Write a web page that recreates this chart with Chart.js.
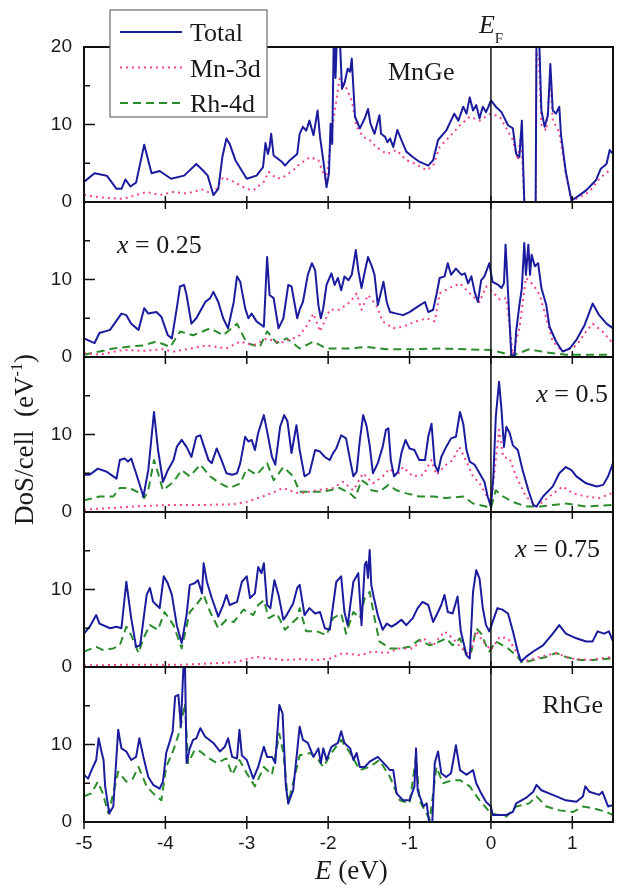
<!DOCTYPE html>
<html>
<head>
<meta charset="utf-8">
<script src="https://cdn.jsdelivr.net/npm/chart.js@4/dist/chart.umd.min.js"></script>
<style>
  html, body { margin: 0; padding: 0; background: #fff; }
  canvas { display: block; }
</style>
</head>
<body>
<canvas id="dos" width="618" height="888"></canvas>
<script>
// ── data: [E (eV), DoS] ─────────────────────────────────────
const xTicks = [-5, -4, -3, -2, -1, 0, 1];
const yTicksTop = [0, 10, 20];
const yTicks = [0, 10];
const yMinor = [5, 15];
const panelNames = ['MnGe', 'x = 0.25', 'x = 0.5', 'x = 0.75', 'RhGe'];

const mngeTotal = [[-5,2.6],[-4.87,3.7],[-4.72,3.4],[-4.6,1.7],[-4.54,1.7],[-4.49,2.9],[-4.43,2.0],[-4.36,2.5],[-4.26,7.4],[-4.17,3.7],[-4.07,4.0],[-3.93,3.0],[-3.77,3.4],[-3.62,4.9],[-3.54,4.1],[-3.48,3.4],[-3.41,0.9],[-3.35,1.7],[-3.3,5.8],[-3.25,8.2],[-3.21,7.5],[-3.14,5.4],[-3.0,3.0],[-2.88,3.4],[-2.8,4.5],[-2.77,7.6],[-2.74,6.2],[-2.72,7.1],[-2.7,8.8],[-2.67,6.0],[-2.57,5.2],[-2.53,4.7],[-2.47,5.4],[-2.38,6.2],[-2.35,8.8],[-2.31,9.7],[-2.27,9.2],[-2.23,10.5],[-2.18,8.6],[-2.13,11.8],[-2.1,8.4],[-2.06,5.4],[-2.02,1.9],[-1.99,3.7],[-1.97,10.1],[-1.95,7.5],[-1.93,22],[-1.91,16],[-1.89,22],[-1.86,22],[-1.83,14.6],[-1.8,15.3],[-1.76,17.2],[-1.73,16.8],[-1.71,18.5],[-1.67,11.0],[-1.61,9.5],[-1.55,10.8],[-1.51,12.0],[-1.48,10.1],[-1.43,8.8],[-1.37,11.2],[-1.35,8.8],[-1.3,8.4],[-1.27,7.7],[-1.24,8.2],[-1.2,7.1],[-1.15,9.3],[-1.1,8.0],[-1.04,6.5],[-0.96,5.8],[-0.88,5.2],[-0.77,4.7],[-0.71,5.4],[-0.65,8.0],[-0.55,9.2],[-0.45,11.4],[-0.4,10.5],[-0.34,12.3],[-0.3,11.4],[-0.26,13.5],[-0.22,11.8],[-0.18,12.5],[-0.14,10.8],[-0.1,12.3],[-0.06,11.6],[-0.03,12.3],[0,13.1],[0.06,12.3],[0.13,11.6],[0.21,9.9],[0.27,9.5],[0.31,6.2],[0.35,5.8],[0.38,10.5],[0.41,0],[0.55,0],[0.56,22],[0.59,22],[0.62,11.8],[0.66,9.7],[0.7,11.2],[0.73,17.8],[0.76,11.8],[0.8,11.4],[0.84,12.3],[0.86,8.8],[0.92,3.9],[0.99,0.2],[1.05,0.6],[1.17,1.5],[1.29,2.8],[1.35,4.3],[1.42,4.9],[1.46,6.7],[1.5,6.2]];
const mngeMn = [[-5,0.9],[-4.81,0.6],[-4.52,0.4],[-4.23,1.3],[-4.07,0.9],[-3.9,1.3],[-3.74,1.1],[-3.55,1.6],[-3.41,1.0],[-3.29,3.2],[-3.16,2.6],[-3.0,1.7],[-2.92,1.5],[-2.79,2.6],[-2.73,3.9],[-2.63,3.0],[-2.55,3.2],[-2.43,4.1],[-2.35,4.9],[-2.22,5.8],[-2.12,5.4],[-2.02,2.6],[-1.96,8.8],[-1.86,15.9],[-1.78,14.8],[-1.71,13.1],[-1.65,9.7],[-1.57,8.4],[-1.49,8.0],[-1.41,7.1],[-1.28,6.2],[-1.16,6.7],[-1.04,5.4],[-0.92,4.9],[-0.79,4.1],[-0.71,4.7],[-0.63,7.1],[-0.51,8.4],[-0.38,9.9],[-0.26,11.0],[-0.14,10.5],[0,11.4],[0.11,11.0],[0.19,9.5],[0.27,8.0],[0.33,5.4],[0.37,8.8],[0.41,0],[0.55,0],[0.56,19],[0.59,19],[0.62,10],[0.68,9.2],[0.73,16],[0.76,10.5],[0.84,9.0],[0.92,3.7],[0.99,0.1],[1.21,1.3],[1.33,3.0],[1.48,4.3]];

const x25Total = [[-5,2.4],[-4.87,1.8],[-4.81,3.1],[-4.68,3.5],[-4.54,5.6],[-4.48,5.4],[-4.42,4.3],[-4.33,3.5],[-4.26,6.3],[-4.21,5.6],[-4.11,5.8],[-4.05,5.2],[-3.97,2.8],[-3.92,2.4],[-3.86,6.3],[-3.82,9.1],[-3.77,9.3],[-3.74,8.0],[-3.68,4.3],[-3.62,5.0],[-3.51,7.1],[-3.45,7.6],[-3.41,8.4],[-3.35,7.1],[-3.29,5.0],[-3.23,3.7],[-3.16,7.1],[-3.12,10.4],[-3.08,9.7],[-3.02,6.3],[-2.98,5.0],[-2.94,5.6],[-2.88,4.6],[-2.79,3.9],[-2.75,12.9],[-2.72,8.0],[-2.67,7.6],[-2.61,3.7],[-2.55,5.0],[-2.49,9.3],[-2.45,9.1],[-2.38,5.0],[-2.35,6.1],[-2.31,7.1],[-2.25,10.6],[-2.2,12.1],[-2.16,11.2],[-2.12,6.7],[-2.09,5.0],[-2.06,6.3],[-2.02,9.3],[-1.96,10.8],[-1.92,9.3],[-1.88,10.2],[-1.84,8.6],[-1.8,10.4],[-1.75,9.9],[-1.71,10.6],[-1.66,13.8],[-1.63,11.2],[-1.59,8.9],[-1.55,11.0],[-1.51,12.9],[-1.47,11.9],[-1.43,10.6],[-1.39,6.7],[-1.35,8.4],[-1.32,9.7],[-1.28,7.1],[-1.24,5.8],[-1.16,5.6],[-1.08,5.4],[-1.0,5.8],[-0.9,6.5],[-0.81,7.1],[-0.77,5.8],[-0.71,6.1],[-0.67,8.0],[-0.63,10.2],[-0.57,10.4],[-0.53,12.1],[-0.49,10.6],[-0.43,11.4],[-0.36,10.6],[-0.32,10.8],[-0.28,9.5],[-0.24,10.4],[-0.2,8.4],[-0.16,7.1],[-0.12,9.9],[-0.08,10.4],[-0.02,12.1],[0.02,9.7],[0.09,9.3],[0.13,8.9],[0.16,9.5],[0.18,14.5],[0.21,8.4],[0.25,0.3],[0.29,0.0],[0.31,3.3],[0.35,6.7],[0.38,8.9],[0.41,14.7],[0.43,10.6],[0.46,14.5],[0.48,10.6],[0.5,13.2],[0.54,11.7],[0.58,12.1],[0.62,8.9],[0.68,6.7],[0.72,3.9],[0.8,2.0],[0.88,0.7],[0.97,1.1],[1.05,2.2],[1.15,4.1],[1.25,6.9],[1.33,5.4],[1.42,4.3],[1.5,3.7]];
const x25Mn = [[-5,0.5],[-4.81,0.3],[-4.52,0.9],[-4.27,0.8],[-4.03,1.0],[-3.9,0.7],[-3.74,1.0],[-3.49,1.5],[-3.25,1.1],[-3.08,2.0],[-2.92,1.5],[-2.75,2.4],[-2.59,1.8],[-2.43,2.4],[-2.35,2.8],[-2.27,3.9],[-2.18,5.6],[-2.1,3.3],[-1.98,6.1],[-1.86,6.1],[-1.73,7.1],[-1.65,8.2],[-1.59,6.1],[-1.51,8.0],[-1.41,6.7],[-1.33,4.6],[-1.2,3.7],[-1.08,3.9],[-0.92,4.6],[-0.79,5.0],[-0.69,4.6],[-0.63,8.2],[-0.51,8.9],[-0.38,9.5],[-0.26,8.2],[-0.14,7.1],[-0.06,9.1],[0.02,8.4],[0.11,7.4],[0.19,7.6],[0.27,0.3],[0.35,3.7],[0.43,10.2],[0.52,9.3],[0.6,8.0],[0.68,5.0],[0.76,2.0],[0.88,0.7],[1.05,1.5],[1.17,3.3],[1.25,4.3],[1.37,3.3],[1.48,2.0]];
const x25Rh = [[-5,0.3],[-4.81,0.7],[-4.64,1.1],[-4.48,1.3],[-4.27,1.5],[-4.11,2.0],[-3.94,1.3],[-3.82,3.3],[-3.66,2.8],[-3.45,3.7],[-3.29,2.8],[-3.12,4.3],[-3.0,1.8],[-2.84,1.3],[-2.75,3.3],[-2.63,1.8],[-2.51,2.4],[-2.35,1.1],[-2.18,2.0],[-2.02,1.1],[-1.73,1.1],[-1.53,1.3],[-1.28,1.0],[-1.0,1.0],[-0.63,1.1],[-0.3,1.0],[0,0.9],[0.27,0.2],[0.47,1.0],[0.68,0.6],[0.92,0.3],[1.21,0.3],[1.48,0.3]];

const x50Total = [[-5,4.8],[-4.93,4.8],[-4.83,5.6],[-4.72,5.2],[-4.64,4.6],[-4.6,4.3],[-4.56,6.7],[-4.5,6.9],[-4.46,6.5],[-4.42,6.9],[-4.36,5.0],[-4.27,2.0],[-4.21,5.4],[-4.14,12.9],[-4.09,8.0],[-4.03,3.9],[-3.97,5.4],[-3.9,6.7],[-3.86,8.4],[-3.8,9.3],[-3.74,8.4],[-3.68,7.1],[-3.62,9.7],[-3.57,9.9],[-3.53,8.6],[-3.47,6.7],[-3.43,6.3],[-3.37,8.2],[-3.31,6.7],[-3.25,5.0],[-3.18,4.8],[-3.12,5.0],[-3.08,6.3],[-3.02,9.7],[-2.98,9.1],[-2.94,9.3],[-2.9,8.0],[-2.86,10.2],[-2.79,12.5],[-2.75,10.4],[-2.69,7.1],[-2.65,6.1],[-2.59,11.0],[-2.54,12.5],[-2.5,11.7],[-2.45,7.6],[-2.39,11.2],[-2.35,8.0],[-2.29,4.6],[-2.23,5.0],[-2.16,8.0],[-2.1,7.8],[-2.04,7.1],[-1.98,6.7],[-1.94,7.6],[-1.9,8.2],[-1.84,9.9],[-1.78,9.5],[-1.73,6.7],[-1.69,4.6],[-1.65,5.2],[-1.61,9.3],[-1.57,12.5],[-1.53,11.2],[-1.49,8.6],[-1.45,5.0],[-1.39,6.3],[-1.33,8.4],[-1.29,10.6],[-1.26,10.8],[-1.23,6.7],[-1.19,4.6],[-1.14,5.2],[-1.1,7.6],[-1.05,9.3],[-1.0,8.2],[-0.94,8.0],[-0.88,6.7],[-0.81,6.7],[-0.77,9.7],[-0.73,11.4],[-0.69,6.1],[-0.65,5.2],[-0.61,7.1],[-0.55,8.4],[-0.49,9.5],[-0.43,9.7],[-0.38,12.9],[-0.34,11.4],[-0.3,8.0],[-0.26,6.5],[-0.2,6.1],[-0.14,5.0],[-0.08,3.9],[-0.04,2.0],[0,0.7],[0.03,4.6],[0.06,12.3],[0.1,16.8],[0.13,13.2],[0.16,8.4],[0.19,11.0],[0.23,10.2],[0.27,8.6],[0.33,8.0],[0.39,5.4],[0.46,2.8],[0.52,0.9],[0.56,0.7],[0.64,2.0],[0.76,3.3],[0.84,5.0],[0.92,5.8],[0.99,5.4],[1.05,4.6],[1.17,3.7],[1.3,3.3],[1.38,3.5],[1.44,4.6],[1.5,6.3]];
const x50Mn = [[-5,0.3],[-4.4,0.7],[-3.99,0.9],[-3.57,0.9],[-3.16,1.0],[-3.0,1.3],[-2.75,2.2],[-2.55,3.1],[-2.43,2.6],[-2.35,2.4],[-2.14,2.8],[-1.94,3.1],[-1.82,3.9],[-1.69,2.8],[-1.57,5.0],[-1.45,3.7],[-1.33,4.6],[-1.24,5.6],[-1.16,4.6],[-1.08,5.8],[-0.96,4.6],[-0.83,4.8],[-0.73,6.7],[-0.67,4.8],[-0.55,6.1],[-0.47,6.7],[-0.39,8.4],[-0.3,6.5],[-0.22,4.6],[-0.14,3.7],[-0.02,1.5],[0.02,2.8],[0.1,10.6],[0.15,7.1],[0.23,6.9],[0.31,4.6],[0.43,2.0],[0.56,0.7],[0.72,2.0],[0.88,3.3],[1.01,2.4],[1.17,2.0],[1.33,1.8],[1.48,2.4]];
const x50Rh = [[-5,1.5],[-4.81,2.0],[-4.64,2.0],[-4.56,3.1],[-4.44,3.1],[-4.31,2.4],[-4.26,1.8],[-4.21,2.8],[-4.14,6.7],[-4.09,5.0],[-4.03,2.8],[-3.9,3.9],[-3.8,5.4],[-3.7,4.6],[-3.57,6.1],[-3.45,4.6],[-3.33,3.7],[-3.21,3.1],[-3.08,3.7],[-3.0,5.6],[-2.88,4.8],[-2.75,6.3],[-2.67,4.1],[-2.55,5.8],[-2.43,4.6],[-2.35,2.6],[-2.22,2.6],[-2.1,2.6],[-1.98,2.8],[-1.86,3.1],[-1.73,2.4],[-1.67,1.8],[-1.59,4.1],[-1.53,3.7],[-1.47,2.8],[-1.37,2.6],[-1.26,3.5],[-1.16,2.8],[-1.04,2.4],[-0.88,2.0],[-0.71,2.0],[-0.55,1.8],[-0.34,2.0],[-0.22,1.1],[-0.06,0.7],[0,0.5],[0.06,2.8],[0.15,2.0],[0.27,1.3],[0.43,0.7],[0.6,0.7],[0.76,0.9],[0.92,1.1],[1.17,0.7],[1.48,0.9]];

const x75Total = [[-5,4.3],[-4.93,5.2],[-4.85,6.7],[-4.81,5.6],[-4.68,5.0],[-4.6,5.2],[-4.54,5.0],[-4.48,11.0],[-4.42,6.3],[-4.36,2.6],[-4.31,2.8],[-4.23,9.3],[-4.19,10.2],[-4.15,8.4],[-4.11,8.0],[-4.07,7.6],[-4.02,11.7],[-3.97,10.8],[-3.92,9.3],[-3.86,5.4],[-3.8,3.1],[-3.74,6.7],[-3.7,10.6],[-3.64,10.8],[-3.6,11.2],[-3.55,9.5],[-3.53,13.4],[-3.49,11.0],[-3.43,8.9],[-3.35,6.5],[-3.29,8.0],[-3.25,9.3],[-3.21,8.0],[-3.12,8.4],[-3.06,11.0],[-3.0,11.7],[-2.96,8.9],[-2.9,9.5],[-2.86,12.9],[-2.82,12.1],[-2.79,13.4],[-2.75,8.0],[-2.71,7.6],[-2.66,11.2],[-2.61,9.3],[-2.55,6.1],[-2.51,6.7],[-2.43,8.2],[-2.38,10.2],[-2.35,10.6],[-2.29,6.7],[-2.23,7.6],[-2.16,6.9],[-2.1,7.1],[-2.04,5.0],[-1.98,4.8],[-1.9,11.0],[-1.84,11.7],[-1.8,7.1],[-1.76,5.4],[-1.69,11.0],[-1.63,12.1],[-1.59,5.4],[-1.55,13.2],[-1.53,13.6],[-1.51,11.5],[-1.49,15.1],[-1.47,10.6],[-1.44,9.0],[-1.39,6.7],[-1.33,4.8],[-1.28,5.6],[-1.22,5.2],[-1.16,5.6],[-1.1,6.1],[-1.04,5.4],[-0.96,6.3],[-0.9,7.6],[-0.84,8.4],[-0.77,8.0],[-0.71,5.8],[-0.65,7.1],[-0.61,8.0],[-0.57,9.3],[-0.53,7.1],[-0.47,6.9],[-0.41,9.1],[-0.37,4.6],[-0.3,1.5],[-0.26,1.1],[-0.22,9.7],[-0.18,12.5],[-0.14,11.4],[-0.1,7.6],[-0.06,5.4],[-0.02,4.6],[0.02,5.8],[0.08,7.6],[0.14,7.4],[0.21,6.9],[0.27,4.6],[0.33,2.0],[0.37,0.7],[0.43,1.3],[0.52,2.0],[0.64,2.8],[0.76,4.3],[0.84,5.4],[0.92,4.3],[1.05,3.7],[1.17,3.3],[1.25,3.3],[1.31,4.6],[1.39,4.3],[1.45,4.6],[1.5,3.3]];
const x75Mn = [[-5,0.2],[-4.4,0.3],[-3.78,0.3],[-3.16,0.6],[-2.88,1.3],[-2.55,0.9],[-2.35,1.0],[-2.14,0.9],[-1.98,1.1],[-1.82,1.8],[-1.61,1.5],[-1.45,2.0],[-1.28,1.8],[-1.12,2.4],[-0.96,2.4],[-0.83,3.7],[-0.71,2.8],[-0.57,4.6],[-0.47,3.7],[-0.36,2.4],[-0.26,1.5],[-0.18,4.6],[-0.1,3.3],[0,2.2],[0.11,3.9],[0.21,3.7],[0.31,2.0],[0.39,0.7],[0.6,1.3],[0.8,1.8],[0.97,1.1],[1.21,0.9],[1.48,1.3]];
const x75Rh = [[-5,2.0],[-4.85,2.6],[-4.77,2.2],[-4.64,2.4],[-4.56,2.8],[-4.48,5.2],[-4.42,4.1],[-4.33,1.8],[-4.27,3.7],[-4.19,5.4],[-4.09,4.8],[-4.01,7.1],[-3.9,5.4],[-3.8,2.4],[-3.7,7.1],[-3.62,8.0],[-3.53,9.3],[-3.45,7.1],[-3.35,5.0],[-3.25,6.1],[-3.16,5.8],[-3.04,7.4],[-2.92,6.7],[-2.86,8.0],[-2.79,8.6],[-2.73,6.3],[-2.63,6.9],[-2.53,4.8],[-2.38,6.3],[-2.35,7.6],[-2.27,4.6],[-2.14,4.6],[-2.02,4.1],[-1.94,6.3],[-1.84,6.9],[-1.78,4.3],[-1.69,7.1],[-1.61,6.3],[-1.55,8.9],[-1.49,9.7],[-1.43,6.3],[-1.37,3.3],[-1.24,2.4],[-1.12,2.4],[-1.0,2.6],[-0.88,3.5],[-0.75,2.8],[-0.67,3.1],[-0.55,3.7],[-0.47,2.8],[-0.38,3.7],[-0.3,1.5],[-0.24,2.0],[-0.18,5.0],[-0.12,4.3],[-0.06,2.8],[-0.02,2.0],[0.06,3.3],[0.21,2.4],[0.31,1.5],[0.39,0.5],[0.52,0.9],[0.68,1.3],[0.8,1.8],[0.92,1.3],[1.09,0.9],[1.25,0.9],[1.48,1.1]];

const rhgeTotal = [[-5,6.1],[-4.95,5.6],[-4.89,7.1],[-4.85,8.0],[-4.82,10.8],[-4.79,9.3],[-4.76,8.0],[-4.74,4.6],[-4.69,1.1],[-4.64,2.0],[-4.58,11.9],[-4.54,9.5],[-4.48,9.1],[-4.42,8.0],[-4.36,8.4],[-4.32,10.8],[-4.27,8.4],[-4.21,5.8],[-4.15,4.8],[-4.07,4.3],[-4.03,5.2],[-3.99,8.9],[-3.94,10.6],[-3.91,11.7],[-3.88,16.2],[-3.84,16.4],[-3.81,12.3],[-3.78,19.6],[-3.76,21],[-3.74,7.6],[-3.7,9.5],[-3.66,10.6],[-3.62,10.8],[-3.57,12.1],[-3.51,11.0],[-3.41,10.2],[-3.33,9.1],[-3.27,9.7],[-3.23,10.8],[-3.18,8.4],[-3.12,8.2],[-3.09,11.9],[-3.06,8.6],[-3.0,8.0],[-2.92,5.6],[-2.86,7.1],[-2.79,9.7],[-2.75,8.4],[-2.69,8.4],[-2.65,7.6],[-2.6,15.1],[-2.56,14.0],[-2.52,4.6],[-2.49,2.4],[-2.43,4.1],[-2.35,12.3],[-2.31,10.6],[-2.25,10.2],[-2.18,8.4],[-2.12,9.5],[-2.09,7.6],[-2.06,9.5],[-2.02,8.0],[-1.96,9.7],[-1.88,10.2],[-1.84,11.7],[-1.8,10.2],[-1.73,9.5],[-1.69,8.0],[-1.65,8.9],[-1.61,7.1],[-1.55,7.1],[-1.49,7.8],[-1.39,8.4],[-1.3,7.4],[-1.24,6.7],[-1.2,6.7],[-1.16,3.7],[-1.08,2.8],[-1.0,2.8],[-0.94,4.6],[-0.92,9.5],[-0.9,4.1],[-0.83,2.0],[-0.79,2.4],[-0.76,0],[-0.72,0],[-0.69,7.6],[-0.65,9.1],[-0.61,6.3],[-0.55,5.8],[-0.49,6.3],[-0.43,9.9],[-0.38,6.7],[-0.3,6.1],[-0.22,6.7],[-0.18,5.0],[-0.12,3.7],[-0.06,2.6],[0,2.0],[0.02,0.9],[0.19,0.9],[0.27,1.3],[0.31,2.4],[0.43,3.1],[0.52,3.9],[0.56,4.8],[0.62,4.1],[0.76,3.5],[0.92,2.8],[1.05,2.6],[1.13,3.3],[1.16,4.6],[1.21,3.9],[1.33,3.5],[1.37,3.9],[1.44,2.0],[1.5,2.2]];
const rhgeRh = [[-5,3.3],[-4.91,3.7],[-4.83,5.2],[-4.77,3.7],[-4.7,1.1],[-4.62,4.6],[-4.58,6.5],[-4.48,5.2],[-4.4,5.6],[-4.33,7.1],[-4.23,4.6],[-4.15,3.7],[-4.05,2.8],[-3.99,7.1],[-3.9,9.3],[-3.82,11.9],[-3.76,15.3],[-3.72,7.6],[-3.64,9.3],[-3.57,9.1],[-3.49,8.4],[-3.37,7.6],[-3.25,8.2],[-3.18,6.1],[-3.09,8.0],[-3.0,6.3],[-2.9,4.6],[-2.79,7.1],[-2.69,6.1],[-2.6,11.4],[-2.55,8.9],[-2.49,2.4],[-2.35,8.6],[-2.22,8.9],[-2.12,8.0],[-2.06,7.1],[-1.96,8.9],[-1.84,10.6],[-1.73,8.9],[-1.61,6.7],[-1.49,7.1],[-1.37,8.0],[-1.24,5.8],[-1.12,2.8],[-1.0,2.4],[-0.92,8.4],[-0.88,2.8],[-0.75,0.3],[-0.67,7.1],[-0.59,5.0],[-0.47,5.4],[-0.38,5.4],[-0.26,4.6],[-0.14,2.8],[0,1.1],[0.19,0.7],[0.31,2.0],[0.47,2.4],[0.56,3.3],[0.68,2.0],[0.84,1.5],[1.01,1.3],[1.13,2.0],[1.25,1.8],[1.42,1.3],[1.5,0.9]];

// ── styles ───────────────────────────────────────────────────
const style = {
    'Total': { color: '#1b1b9e', width: 2,   dash: [] },
    'Mn-3d': { color: '#f0448c', width: 2,   dash: [2, 4] },
    'Rh-4d': { color: '#2b8c2b', width: 2,   dash: [8, 5] },
};
const panelIds = ['y1', 'y2', 'y3', 'y4', 'y5'];
const SERIF = '"Liberation Serif", "Times New Roman", serif';
const SANS  = '"Liberation Sans", Arial, sans-serif';

// Totals first so they are drawn on top
const series = [
    [0, 'Total', mngeTotal], [1, 'Total', x25Total], [2, 'Total', x50Total], [3, 'Total', x75Total], [4, 'Total', rhgeTotal],
    [0, 'Mn-3d', mngeMn], [1, 'Mn-3d', x25Mn], [2, 'Mn-3d', x50Mn], [3, 'Mn-3d', x75Mn],
    [1, 'Rh-4d', x25Rh], [2, 'Rh-4d', x50Rh], [3, 'Rh-4d', x75Rh], [4, 'Rh-4d', rhgeRh],
];

const datasets = series.map(([p, kind, arr]) => ({
    label: kind,
    data: arr.map(([x, y]) => ({ x, y })),
    xAxisID: 'x',
    yAxisID: panelIds[p],
    borderColor: style[kind].color,
    borderWidth: style[kind].width,
    borderDash: style[kind].dash,
    borderJoinStyle: 'round',
    pointRadius: 0,
    tension: 0,
    fill: false,
}));

// ── scales: five stacked y axes sharing one x axis ───────────
const scales = {
    x: {
        type: 'linear', position: 'bottom', min: -5, max: 1.5,
        afterFit: s => { s.height = 66; },
        afterBuildTicks: s => { s.ticks = xTicks.map(v => ({ value: v })); },
        grid: { display: false, drawTicks: false },
        border: { display: false },
        ticks: { autoSkip: false, maxRotation: 0, padding: 10, color: '#1a1a1a',
                 font: { family: SANS, size: 19 }, callback: v => String(v) },
    }
};
panelIds.forEach((id, i) => {
    scales[id] = {
        type: 'linear', position: 'left', stack: 'dos', stackWeight: 1,
        weight: panelIds.length - i,           // higher weight = placed higher
        min: 0, max: 20,
        afterFit: s => { s.width = 84; },
        afterBuildTicks: s => { s.ticks = (i === 0 ? yTicksTop : yTicks).map(v => ({ value: v })); },
        grid: { display: false, drawTicks: false },
        border: { display: false },
        ticks: { padding: 12, color: '#1a1a1a', font: { family: SANS, size: 19 }, callback: v => String(v) },
    };
});

function richText(ctx, parts, x, y, align) {
    const widths = parts.map(p => { ctx.font = p[1]; return ctx.measureText(p[0]).width; });
    const total = widths.reduce((a, b) => a + b, 0);
    let cx = align === 'right' ? x - total : align === 'center' ? x - total / 2 : x;
    parts.forEach((p, i) => { ctx.font = p[1]; ctx.fillText(p[0], cx, y + (p[2] || 0)); cx += widths[i]; });
}

// frames, inward ticks, Fermi line
const frames = {
    id: 'frames',
    afterDatasetsDraw(chart) {
        const { ctx, chartArea: ca, scales: sc } = chart;
        ctx.save();
        ctx.strokeStyle = '#111';
        panelIds.forEach(id => {
            const y = sc[id];
            ctx.lineWidth = 1.5;
            ctx.beginPath();
            yMinor.forEach(v => { const py = y.getPixelForValue(v); ctx.moveTo(ca.left, py); ctx.lineTo(ca.left + 6, py); });
            const py10 = y.getPixelForValue(10);
            ctx.moveTo(ca.left, py10); ctx.lineTo(ca.left + 11, py10);
            xTicks.forEach(v => { const px = sc.x.getPixelForValue(v); ctx.moveTo(px, y.bottom - 6); ctx.lineTo(px, y.bottom + 7); });
            ctx.stroke();
            ctx.lineWidth = 2;
            ctx.strokeRect(ca.left, y.top, ca.right - ca.left, y.bottom - y.top);
        });
        const x0 = sc.x.getPixelForValue(0);
        ctx.lineWidth = 1.5;
        ctx.beginPath();
        ctx.moveTo(x0, ca.top); ctx.lineTo(x0, ca.bottom);
        ctx.stroke();
        ctx.restore();
    }
};

// legend, panel names, axis titles
const labels = {
    id: 'labels',
    afterDraw(chart) {
        const { ctx, chartArea: ca, scales: sc } = chart;
        ctx.save();
        ctx.textBaseline = 'alphabetic';
        ctx.fillStyle = '#1a1a1a';

        // legend box
        ctx.fillStyle = '#fff';
        ctx.fillRect(110, 10, 157, 107);
        ctx.strokeStyle = '#6a6a6a';
        ctx.lineWidth = 1.2;
        ctx.strokeRect(110, 10, 157, 107);
        ['Total', 'Mn-3d', 'Rh-4d'].forEach((k, i) => {
            const base = 41 + i * 35.5;
            ctx.strokeStyle = style[k].color;
            ctx.lineWidth = style[k].width;
            ctx.setLineDash(style[k].dash);
            ctx.beginPath();
            ctx.moveTo(120, base - 9); ctx.lineTo(182, base - 9);
            ctx.stroke();
            ctx.setLineDash([]);
            ctx.fillStyle = '#1a1a1a';
            ctx.font = '26px ' + SERIF;
            ctx.fillText(k, 190, base);
        });

        // panel names
        const reg = '26px ' + SERIF, ita = 'italic 26px ' + SERIF;
        const top = i => sc[panelIds[i]].top;
        ctx.fillStyle = '#1a1a1a';
        richText(ctx, [[panelNames[0], reg]], 388, top(0) + 33, 'left');
        richText(ctx, [['x', ita], [panelNames[1].slice(1), reg]], 117, top(1) + 51, 'left');
        richText(ctx, [['x', ita], [panelNames[2].slice(1), reg]], ca.right - 5, top(2) + 45, 'right');
        richText(ctx, [['x', ita], [panelNames[3].slice(1), reg]], ca.right - 13, top(3) + 45, 'right');
        richText(ctx, [[panelNames[4], reg]], ca.right - 10, top(4) + 46, 'right');

        // E_F
        const x0 = sc.x.getPixelForValue(0);
        richText(ctx, [['E', ita], ['F', '15px ' + SERIF, 10]], x0 - 12, ca.top - 14, 'left');

        // x title
        richText(ctx, [['E', 'italic 27px ' + SERIF], [' (eV)', '27px ' + SERIF]], 315, 879, 'left');

        // y title
        ctx.translate(33, (ca.top + ca.bottom) / 2 + 5);
        ctx.rotate(-Math.PI / 2);
        richText(ctx, [['DoS/cell  (eV', '27px ' + SERIF], ['-1', '16px ' + SERIF, -11], [')', '27px ' + SERIF]], 0, 0, 'center');
        ctx.restore();
    }
};

new Chart(document.getElementById('dos'), {
    type: 'line',
    data: { datasets },
    options: {
        responsive: false,
        animation: false,
        devicePixelRatio: 1,
        layout: { padding: { left: 0, right: 5, top: 47, bottom: 0 } },
        plugins: { legend: { display: false }, tooltip: { enabled: false } },
        scales,
    },
    plugins: [frames, labels],
});
</script>
</body>
</html>
